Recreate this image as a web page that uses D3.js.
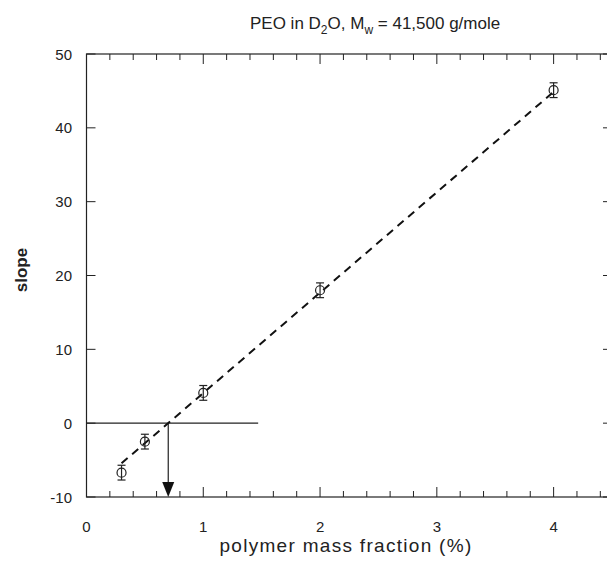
<!DOCTYPE html>
<html>
<head>
<meta charset="utf-8">
<script src="https://cdn.jsdelivr.net/npm/d3@7"></script>
<style>
  body { margin: 0; background: #fff; }
  text { font-family: "Liberation Sans", Arial, sans-serif; fill: #222; }
</style>
</head>
<body>
<div id="chart"></div>
<script>
// data
const fraction = [0.3, 0.5, 1.0, 2.0, 4.0];
const slope = [-6.7, -2.5, 4.1, 18.0, 45.1];
const slopeErr = [1.0, 1.0, 1.0, 1.0, 1.0];
const fitX = [0.3, 4.0];
const fitIntercept = 0.7;  // x where fit crosses zero
const fitGradient = 13.6;
const xTicks = [0, 1, 2, 3, 4];
const yTicks = [-10, 0, 10, 20, 30, 40, 50];

const W = 607, H = 563;
const margin = {top: 54, left: 86.5, right: -5, bottom: 66};
const innerW = W - margin.left - margin.right,
    innerH = H - margin.top - margin.bottom;

const svg = d3.select("#chart").append("svg")
    .attr("width", W)
    .attr("height", H);

const x = d3.scaleLinear().domain([0, 4.5]).range([margin.left, margin.left + innerW]);
const y = d3.scaleLinear().domain([-10, 50]).range([margin.top + innerH, margin.top]);

const ink = "#222";

// frame
svg.append("rect")
    .attr("x", x(0)).attr("y", y(50))
    .attr("width", x(4.5) - x(0)).attr("height", y(-10) - y(50))
    .attr("fill", "none").attr("stroke", ink).attr("stroke-width", 1.2);

// x ticks, bottom and top (inward)
const minorX = d3.range(0, 4.51, 0.2).map(d => +d.toFixed(1));
svg.selectAll(".xt")
    .data(minorX)
    .join("g")
    .each(function(d) {
        const major = Math.abs(d - Math.round(d)) < 1e-6;
        const len = major ? 10 : 6;
        const g = d3.select(this);
        g.append("line").attr("x1", x(d)).attr("x2", x(d))
            .attr("y1", y(-10)).attr("y2", y(-10) - len)
            .attr("stroke", ink);
        g.append("line").attr("x1", x(d)).attr("x2", x(d))
            .attr("y1", y(50)).attr("y2", y(50) + len)
            .attr("stroke", ink);
    });

svg.selectAll(".xl")
    .data(xTicks)
    .join("text")
    .attr("x", d => x(d))
    .attr("y", 532)
    .attr("text-anchor", "middle")
    .attr("font-size", 15)
    .text(d => d);

// y ticks, left and right
svg.selectAll(".yt")
    .data(yTicks)
    .join("g")
    .each(function(d) {
        const g = d3.select(this);
        g.append("line").attr("x1", x(0)).attr("x2", x(0) + 9)
            .attr("y1", y(d)).attr("y2", y(d)).attr("stroke", ink);
        g.append("line").attr("x1", x(4.5)).attr("x2", x(4.5) - 9)
            .attr("y1", y(d)).attr("y2", y(d)).attr("stroke", ink);
    });

svg.selectAll(".yl")
    .data(yTicks)
    .join("text")
    .attr("x", 72)
    .attr("y", d => y(d) + 5.5)
    .attr("text-anchor", "end")
    .attr("font-size", 15)
    .text(d => d);

// zero line and arrow down to x intercept
svg.append("line")
    .attr("x1", x(0)).attr("x2", x(1.47))
    .attr("y1", y(0)).attr("y2", y(0))
    .attr("stroke", ink).attr("stroke-width", 1.2);

svg.append("line")
    .attr("x1", x(fitIntercept)).attr("x2", x(fitIntercept))
    .attr("y1", y(0)).attr("y2", y(-10) - 12)
    .attr("stroke", ink).attr("stroke-width", 1.2);

svg.append("path")
    .attr("d", d3.line()([
        [x(fitIntercept) - 6, y(-10) - 15],
        [x(fitIntercept) + 6, y(-10) - 15],
        [x(fitIntercept), y(-10)]
    ]) + "Z")
    .attr("fill", "#111");

// dashed fit
svg.append("path")
    .datum(fitX)
    .attr("d", d3.line()
        .x(d => x(d))
        .y(d => y(fitGradient * (d - fitIntercept))))
    .attr("fill", "none")
    .attr("stroke", "#111")
    .attr("stroke-width", 2)
    .attr("stroke-dasharray", "8,6");

// data points with error bars
const pts = fraction.map((f, i) => ({x: f, y: slope[i], e: slopeErr[i]}));
const pg = svg.selectAll(".pt")
    .data(pts)
    .join("g");

pg.append("line")
    .attr("x1", d => x(d.x)).attr("x2", d => x(d.x))
    .attr("y1", d => y(d.y + d.e)).attr("y2", d => y(d.y - d.e))
    .attr("stroke", ink).attr("stroke-width", 1.2);
pg.append("line")
    .attr("x1", d => x(d.x) - 4).attr("x2", d => x(d.x) + 4)
    .attr("y1", d => y(d.y + d.e)).attr("y2", d => y(d.y + d.e))
    .attr("stroke", ink).attr("stroke-width", 1.2);
pg.append("line")
    .attr("x1", d => x(d.x) - 4).attr("x2", d => x(d.x) + 4)
    .attr("y1", d => y(d.y - d.e)).attr("y2", d => y(d.y - d.e))
    .attr("stroke", ink).attr("stroke-width", 1.2);
pg.append("circle")
    .attr("cx", d => x(d.x)).attr("cy", d => y(d.y))
    .attr("r", 4.5)
    .attr("fill", "none").attr("stroke", ink).attr("stroke-width", 1.2);

// title
const title = svg.append("text")
    .attr("x", 250).attr("y", 29)
    .attr("font-size", 17);
title.append("tspan").text("PEO in D");
title.append("tspan").attr("font-size", 12).attr("dy", 5).text("2");
title.append("tspan").attr("dy", -5).text("O, M");
title.append("tspan").attr("font-size", 12).attr("dy", 5).text("w");
title.append("tspan").attr("dy", -5).text(" = 41,500 g/mole");

// axis labels
svg.append("text")
    .attr("x", 346).attr("y", 552)
    .attr("text-anchor", "middle")
    .attr("font-size", 19)
    .attr("letter-spacing", 1.3)
    .text("polymer mass fraction (%)");

svg.append("text")
    .attr("transform", "translate(27,270) rotate(-90)")
    .attr("text-anchor", "middle")
    .attr("font-size", 17)
    .attr("font-weight", "bold")
    .text("slope");
</script>
</body>
</html>
